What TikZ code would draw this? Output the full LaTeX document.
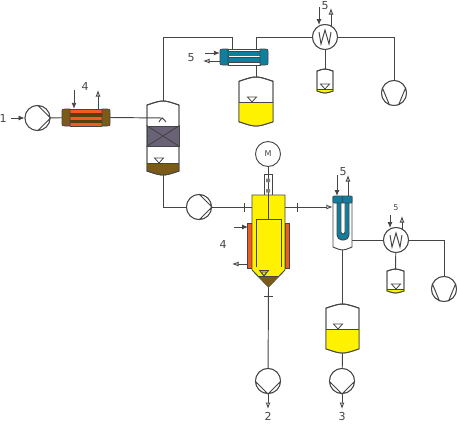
\documentclass[tikz,border=0pt]{standalone}
\usepackage{fontspec}
\setmainfont{DejaVu Sans}
\usepackage{xcolor}
\usetikzlibrary{positioning,arrows.meta,calc}
\definecolor{ink}{gray}{0.27}
\definecolor{liquor}{HTML}{FFF200}
\definecolor{residue}{HTML}{7B5B17}
\definecolor{hotband}{HTML}{F15A22}
\definecolor{coolant}{HTML}{0F7F9F}
\definecolor{packing}{HTML}{6A6377}
\tikzset{
  pipe/.style={draw=ink, line width=0.95pt},
  part/.style={draw=ink, line width=0.95pt, fill=white},
  pumpc/.style={circle, draw=ink, line width=0.95pt, fill=white, minimum size=25pt, inner sep=0pt},
  infeed/.style={draw=ink, line width=0.9pt, -{Latex[length=6pt,width=5pt]}},
  outfeed/.style={draw=ink, line width=0.9pt, -{Latex[open,length=6.5pt,width=5pt,fill=white]}},
  lbl/.style={font=\fontsize{11}{11}\selectfont, text=ink, inner sep=0pt},
  tickmark/.style={fill=ink, inner sep=0pt},
}
% vessel: name, left, right, top, bottom, liquid level, liquid colour
\newcommand{\vessel}[7]{
  \pgfmathsetmacro{\xm}{(#2+#3)/2}
  \pgfmathsetmacro{\dh}{(#3-#2)/8}
  \pgfmathsetmacro{\ya}{#4+\dh}
  \pgfmathsetmacro{\yb}{#5-\dh}
  \pgfmathsetmacro{\yc}{#4-\dh/3}
  \pgfmathsetmacro{\yd}{#5+\dh/3}
  \draw[part] (#2,\ya) .. controls (\xm,\yc) .. (#3,\ya) -- (#3,\yb) .. controls (\xm,\yd) .. (#2,\yb) -- cycle;
  \fill[#7] (#2,#6) -- (#3,#6) -- (#3,\yb) .. controls (\xm,\yd) .. (#2,\yb) -- cycle;
  \draw[pipe] (#2,\ya) .. controls (\xm,\yc) .. (#3,\ya) -- (#3,\yb) .. controls (\xm,\yd) .. (#2,\yb) -- cycle;
  \draw[pipe] (#2,#6) -- (#3,#6);
  \coordinate (#1t) at (\xm,#4);
  \coordinate (#1b) at (\xm,#5);
}
\newcommand{\level}[2]{
  \draw[part, line width=0.8pt] (#1-4.5,#2-5) -- (#1+4.5,#2-5) -- (#1,#2) -- cycle;
}
% shell ends of an exchanger: left, right, top, bottom, colour
\newcommand{\shellends}[5]{
  \draw[pipe, line width=0.7pt, fill=#5] (#1+8,#3) -- (#1+3,#3) .. controls (#1,#3) .. (#1,#3+4) -- (#1,#4-4) .. controls (#1,#4) .. (#1+3,#4) -- (#1+8,#4) -- cycle;
  \draw[pipe, line width=0.7pt, fill=#5] (#2-8,#3) -- (#2-3,#3) .. controls (#2,#3) .. (#2,#3+4) -- (#2,#4-4) .. controls (#2,#4) .. (#2-3,#4) -- (#2-8,#4) -- cycle;
}
\begin{document}
\begin{tikzpicture}[x=1pt,y=-1pt]
  \useasboundingbox (0,0) rectangle (457,423);
  % pumps and condensers
  \node[pumpc] (feedpump) at (37.5,118) {};
  \node[pumpc] (transfer) at (199,207) {};
  \node[pumpc] (vacuuma) at (394,93) {};
  \node[pumpc] (vacuumb) at (444,289) {};
  \node[pumpc] (drainb) at (268,381) {};
  \node[pumpc] (draind) at (342,381) {};
  \node[pumpc] (conda) at (325,37) {};
  \node[pumpc] (condb) at (396,240) {};
  \node[pumpc] (motor) at (268,154) {};
  \node[inner sep=0pt, minimum width=48pt, minimum height=17pt] (heater) at (86,117.5) {};
  \node[inner sep=0pt, minimum width=48pt, minimum height=16pt] (cooler) at (244,57) {};
  \node[inner sep=0pt, minimum width=33pt, minimum height=75pt] (reactor) at (268.5,232.5) {};
  \node[inner sep=0pt, minimum width=19pt, minimum height=54pt] (trap) at (342.5,223) {};
  \coordinate (topa) at (232,37);
  \coordinate (topb) at (256,37);
  \coordinate (topc) at (394,37);
  \coordinate (sidec) at (444,240);
  \coordinate (feedin) at (11,118);
  \coordinate (spray) at (163,118);
  \coordinate (colfoot) at (163,207);
  \coordinate (outb) at (268,409);
  \coordinate (outd) at (342,409);
  % vessels
  \vessel{col}{147}{179}{101}{175}{163}{residue}
  \vessel{cup}{239}{273}{77}{126}{102}{liquor}
  \vessel{tka}{317}{333}{69}{93}{89}{liquor}
  \vessel{tkb}{387}{404}{269}{293}{289}{liquor}
  \vessel{tkd}{326}{359}{304}{353}{329}{liquor}
  \level{159}{163} \level{252}{102} \level{325}{89} \level{396}{289} \level{338}{329}
  \node[part, inner sep=0pt, minimum width=32pt, minimum height=20pt, fill=packing] (bed) at (163,136) {};
  \draw[pipe] (bed.north west) -- (bed.south east) (bed.north east) -- (bed.south west);
  \draw[pipe] (159,122) .. controls (162,117) .. (166,122);
  % pipes
  \draw[pipe] (feedpump) -- (heater);
  \draw[pipe] (heater.east) -- (spray);
  \draw[pipe] (colt) |- (topa) -- (topa |- cooler.north);
  \draw[pipe] (cupt) -- (cupt |- cooler.south);
  \draw[pipe] (topb |- cooler.north) -- (topb) -- (conda);
  \draw[pipe] (conda) -- (topc) -- (vacuuma);
  \draw[pipe] (conda) -- (tkat);
  \draw[pipe] (colb) -- (colfoot) -- (transfer);
  \draw[pipe] (transfer) -- (reactor.west |- transfer);
  \draw[pipe] (motor) -- (268,219);
  \draw[pipe] (268.5,287) -- (drainb);
  \draw[pipe] (trap.south) -- (tkdt);
  \draw[pipe] (tkdb) -- (draind);
  \draw[pipe] (trap.east |- condb) -- (condb);
  \draw[pipe] (condb) -- (sidec) -- (vacuumb);
  \draw[pipe] (condb) -- (tkbt);
  \node[part, inner sep=0pt, minimum width=8pt, minimum height=21pt] (seal) at (268,184.5) {};
  \draw[pipe] (seal.north) -- (seal.south);
  \fill[gray] (266,178.5) rectangle (270,182) (266,189) rectangle (270,192.5);
  % pump faces
  \foreach \p in {feedpump,transfer}
    \draw[part] (\p.center) circle (12.5pt) (\p.north) -- (\p.east) -- (\p.south);
  \foreach \p in {drainb,draind}
    \draw[part] (\p.center) circle (12.5pt) (\p.west) -- (\p.south) -- (\p.east);
  \foreach \p in {vacuuma,vacuumb}
    \draw[part] (\p.center) circle (12.5pt) (\p.155) -- (\p.250) (\p.25) -- (\p.290);
  \foreach \p in {conda,condb}{
    \draw[part] (\p.center) circle (12.5pt);
    \draw[pipe] ($(\p)+(-6,-5)$) -- ($(\p)+(-4,7)$) -- ($(\p)+(0,-7)$) -- ($(\p)+(4,7)$) -- ($(\p)+(6,-5)$);
  }
  \node[font=\fontsize{8}{8}\selectfont, text=ink, inner sep=0pt] (motorm) at (motor) {M};
  % heater
  \fill[residue!70!black] (70,109) rectangle (102,126);
  \foreach \y in {111.5,118,124}
    \draw[hotband, line width=3pt] (70,\y) -- (102,\y);
  \draw[pipe] (70,109) -- (102,109) (70,126) -- (102,126);
  \shellends{62}{110}{109}{126}{residue}
  % cooler
  \draw[part] (228,49) rectangle (260,65);
  \foreach \y in {54,60}
    \draw[coolant, line width=3.4pt] (227,\y) -- (261,\y);
  \draw[pipe, line width=0.6pt] (228,51.5) -- (260,51.5) (228,57) -- (260,57) (228,62.5) -- (260,62.5);
  \shellends{220}{268}{49}{65}{coolant}
  % reactor
  \draw[pipe, line width=0.7pt, fill=hotband] (247.5,223) rectangle (252,268);
  \draw[pipe, line width=0.7pt, fill=hotband] (285,223) rectangle (289.5,268);
  \draw[pipe, fill=liquor] (252,195) -- (285,195) -- (285,270) -- (268.5,287) -- (252,270) -- cycle;
  \fill[residue] (257.8,276) -- (279.2,276) -- (268.5,287) -- cycle;
  \draw[pipe] (256,267) -- (256,219) -- (281,219) -- (281,267);
  \draw[pipe] (268,195) -- (268,219);
  \draw[pipe] (257.8,276) -- (279.2,276);
  \draw[part, fill=none, line width=0.8pt] (259.5,270.5) -- (268.5,270.5) -- (264,276) -- cycle;
  \draw[part, fill=none, line width=0.6pt] (261.5,272) -- (266.5,272) -- (264,276) -- cycle;
  % trap
  \draw[part] (333,196) -- (333,247) .. controls (342.5,251) .. (352,247) -- (352,196);
  \draw[pipe, fill=coolant, rounded corners=5pt] (337,202) -- (337,240) -- (349,240) -- (349,202);
  \draw[pipe, fill=white, rounded corners=2pt] (341,202) -- (341,234) -- (345,234) -- (345,202);
  \draw[pipe, line width=0.7pt, fill=coolant, rounded corners=1pt] (333,196) rectangle (352,203);
  \draw[pipe, line width=0.7pt] (342.5,196) -- (342.5,203);
  % ticks
  \node[tickmark, minimum width=1pt, minimum height=9pt] (ticka) at (244,207) {};
  \node[tickmark, minimum width=1pt, minimum height=9pt] (tickb) at (297,207) {};
  \node[tickmark, minimum width=9pt, minimum height=1pt] (tickc) at (268,296) {};
  % utility lines
  \coordinate (hin) at (74,90);
  \coordinate (hout) at (98,90);
  \coordinate (cin) at (205,53);
  \coordinate (cout) at (203,61);
  \coordinate (jin) at (234,227);
  \coordinate (jout) at (232,264);
  \coordinate (ain) at (319,7);
  \coordinate (aout) at (331,8);
  \coordinate (bin) at (390,215);
  \coordinate (bout) at (402,216);
  \coordinate (tin) at (337,175);
  \coordinate (tout) at (348,175);
  \draw[infeed] (feedin) -- (feedpump.west);
  \draw[infeed] (hin) -- (hin |- heater.north);
  \draw[outfeed] (hout |- heater.north) -- (hout);
  \draw[infeed] (cin) -- (cin -| cooler.west);
  \draw[outfeed] (cout -| cooler.west) -- (cout);
  \draw[infeed] (jin) -- (248,227);
  \draw[outfeed] (248,264) -- (jout);
  \draw[infeed] (ain) -- (319,25);
  \draw[outfeed] (331,27) -- (aout);
  \draw[infeed] (bin) -- (390,228);
  \draw[outfeed] (402,230) -- (bout);
  \draw[infeed] (tin) -- (337,196);
  \draw[outfeed] (348,196) -- (tout);
  \draw[outfeed] (reactor.east |- transfer) -- (trap.west |- transfer);
  \draw[outfeed] (drainb) -- (outb);
  \draw[outfeed] (draind) -- (outd);
  % labels
  \node[lbl] (ln1) at (3,118) {1};
  \node[lbl] (ln4a) at (85,86) {4};
  \node[lbl] (ln5a) at (191,58) {5};
  \node[lbl] (ln5b) at (325,6) {5};
  \node[lbl] (ln4b) at (223,244) {4};
  \node[lbl] (ln5c) at (343,172) {5};
  \node[lbl, font=\fontsize{8}{8}\selectfont] (ln5d) at (396,208) {5};
  \node[lbl] (ln2) at (268,416.5) {2};
  \node[lbl] (ln3) at (342,416.5) {3};
\end{tikzpicture}
\end{document}
